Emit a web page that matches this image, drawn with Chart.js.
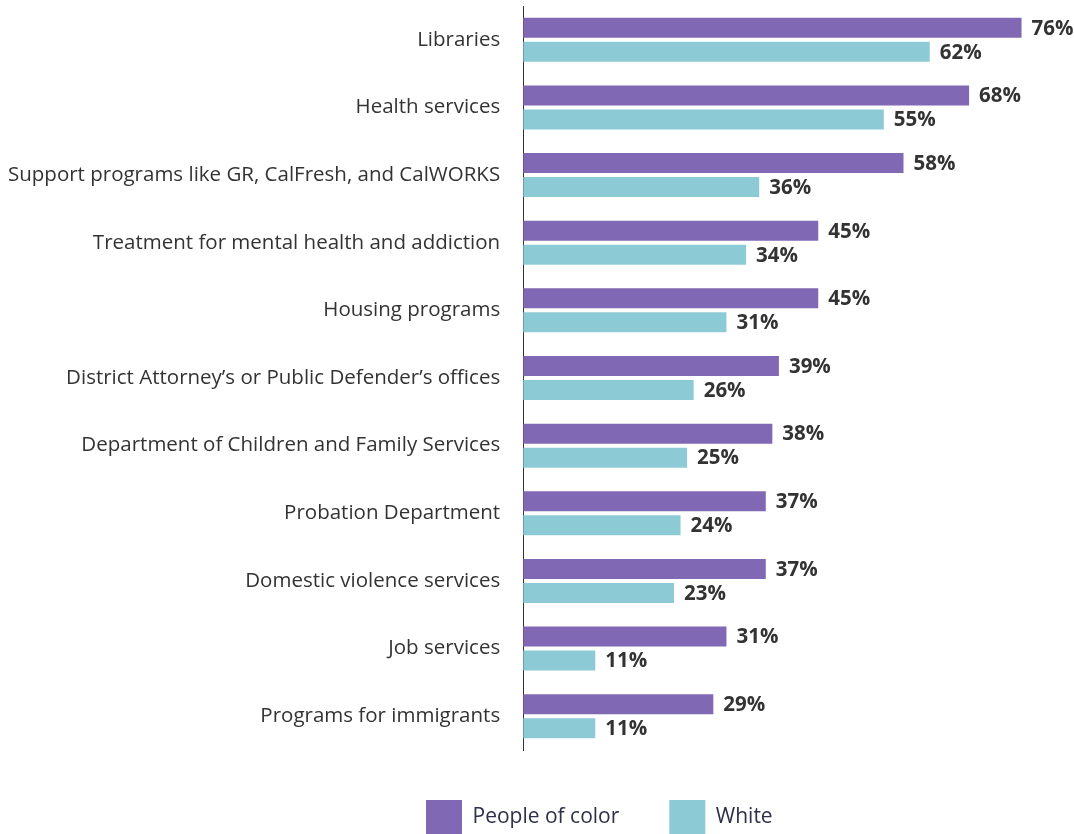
<!DOCTYPE html>
<html>
<head>
<meta charset="utf-8">
<script src="https://cdn.jsdelivr.net/npm/chart.js@4/dist/chart.umd.min.js"></script>
<style>
    html, body { margin: 0; padding: 0; background: #ffffff; }
    #wrap { width: 1074px; height: 834px; position: relative; }
</style>
</head>
<body>
<div id="wrap"><canvas id="servicesChart"></canvas></div>
<script>
// Categories and values
const categories = [
    'Libraries',
    'Health services',
    'Support programs like GR, CalFresh, and CalWORKS',
    'Treatment for mental health and addiction',
    'Housing programs',
    'District Attorney\u2019s or Public Defender\u2019s offices',
    'Department of Children and Family Services',
    'Probation Department',
    'Domestic violence services',
    'Job services',
    'Programs for immigrants'
];
const peopleOfColor = [76, 68, 58, 45, 45, 39, 38, 37, 37, 31, 29];
const white = [62, 55, 36, 34, 31, 26, 25, 24, 23, 11, 11];
const seriesNames = ['People of color', 'White'];

const PURPLE = '#8068b4';
const TEAL = '#8ccbd5';

// Draws the "76%" labels at the end of each bar
const valueLabels = {
    id: 'valueLabels',
    afterDatasetsDraw(chart) {
        const ctx = chart.ctx;
        ctx.save();
        ctx.font = 'bold 20.5px "Open Sans"';
        ctx.fillStyle = '#333333';
        ctx.textAlign = 'left';
        ctx.textBaseline = 'middle';
        chart.data.datasets.forEach((ds, i) => {
            chart.getDatasetMeta(i).data.forEach((bar, j) => {
                ctx.fillText(ds.data[j] + '%', bar.x + 10, bar.y + 1);
            });
        });
        ctx.restore();
    }
};

// Moves the legend so it sits under the bars like the reference
const legendShift = {
    id: 'legendShift',
    afterLayout(chart) {
        chart.legend.left = 376;
    }
};

function createChart() {
    const ctx = document.getElementById('servicesChart').getContext('2d');

    new Chart(ctx, {
        type: 'bar',
        data: {
            labels: categories,
            datasets: [{
                label: seriesNames[0],
                data: peopleOfColor,
                backgroundColor: PURPLE,
                categoryPercentage: 0.71,
                barPercentage: 0.833
            }, {
                label: seriesNames[1],
                data: white,
                backgroundColor: TEAL,
                categoryPercentage: 0.71,
                barPercentage: 0.833
            }]
        },
        options: {
            indexAxis: 'y',
            responsive: true,
            maintainAspectRatio: false,
            animation: false,
            layout: {
                padding: { top: 6, left: -15, right: 0, bottom: -10 }
            },
            scales: {
                x: {
                    display: false,
                    min: 0,
                    max: 84
                },
                y: {
                    grid: { display: false, drawTicks: false },
                    border: { display: true, color: '#333333', width: 1 },
                    ticks: {
                        padding: 23,
                        color: '#333333',
                        font: { family: '"Open Sans"', size: 20.5 }
                    },
                    afterFit(scale) {
                        // no extra room above/below for the label half-heights
                        scale.paddingTop = 0;
                        scale.paddingBottom = 0;
                    }
                }
            },
            plugins: {
                legend: {
                    position: 'bottom',
                    align: 'start',
                    labels: {
                        boxWidth: 36,
                        boxHeight: 34,
                        padding: 50,
                        color: '#2e3047',
                        font: { family: '"Open Sans"', size: 21 }
                    }
                },
                tooltip: { enabled: false }
            }
        },
        plugins: [valueLabels, legendShift]
    });
}

document.fonts.load('20px "Open Sans"').then(() => document.fonts.load('bold 20px "Open Sans"')).then(createChart, createChart);
</script>
</body>
</html>
